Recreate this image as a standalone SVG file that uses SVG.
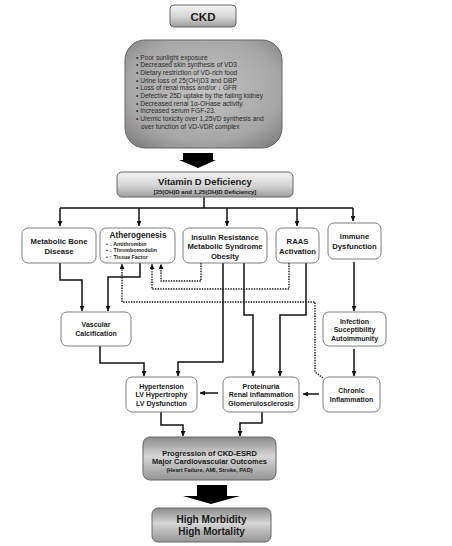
<svg xmlns="http://www.w3.org/2000/svg" width="452" height="546" viewBox="0 0 452 546">
<defs>
<linearGradient id="gDark" x1="0" y1="0" x2="0" y2="1">
<stop offset="0" stop-color="#8a8a8a"/><stop offset="0.45" stop-color="#d6d6d6"/><stop offset="1" stop-color="#959595"/>
</linearGradient>
<linearGradient id="gLight" x1="0" y1="0" x2="0" y2="1">
<stop offset="0" stop-color="#f4f4f4"/><stop offset="0.55" stop-color="#d4d4d4"/><stop offset="1" stop-color="#9c9c9c"/>
</linearGradient>
<radialGradient id="gBig" cx="0.5" cy="0.45" r="0.7">
<stop offset="0" stop-color="#c4c4c4"/><stop offset="0.7" stop-color="#a6a6a6"/><stop offset="1" stop-color="#7e7e7e"/>
</radialGradient>
<marker id="ah" viewBox="0 0 6 6" refX="6" refY="3" markerWidth="5" markerHeight="5" markerUnits="userSpaceOnUse" orient="auto">
<path d="M0,0L6,3L0,6z" fill="#111"/>
</marker>
</defs>
<style>
text{font-family:"Liberation Sans",Arial,sans-serif;fill:#1a1a1a;text-anchor:middle;font-weight:bold}
.box{fill:#fff;stroke:#707070;stroke-width:0.9}
.gbox{stroke:#666;stroke-width:1}
.r1{font-size:7.7px}
.r2{font-size:7px}
.list{font-size:6.6px;font-weight:normal;text-anchor:start;fill:#2a2a2a}
.sub{font-size:5.3px;text-anchor:start}
.c{fill:none;stroke:#111;stroke-width:1.5;marker-end:url(#ah)}
.d{fill:none;stroke:#111;stroke-width:1.4;stroke-dasharray:1.4 1.2;marker-end:url(#ah)}
.n{fill:none;stroke:#111;stroke-width:1.5}
</style>

<g id="connectors">
<path class="n" d="M204,197V208M60,208H353"/>
<path class="c" d="M60,208V226"/>
<path class="c" d="M139,208V226"/>
<path class="c" d="M227,208V226"/>
<path class="c" d="M297,208V226"/>
<path class="c" d="M353,208V221"/>
<path class="c" d="M60,263V280H82V311"/>
<path class="c" d="M140,263V277H108V311"/>
<path class="d" d="M201,263V281H161V264"/>
<path class="d" d="M289,263V289H152V264"/>
<path class="d" d="M323,378L315,372V302H122V264"/>
<path class="c" d="M223,263V362H178V376"/>
<path class="c" d="M244,263V315H253V376"/>
<path class="c" d="M306,263V315H280V376"/>
<path class="c" d="M100,346V363H144V376"/>
<path class="c" d="M354,262V311"/>
<path class="c" d="M354,349V376"/>
<path class="c" d="M319,394H303"/>
<path class="c" d="M218,393H200"/>
<path class="c" d="M161,412V425H183V436"/>
<path class="c" d="M262,412V423H240V436"/>
<polygon points="183,153 213,153 213,160 216,160 198,168 179,160 183,160" fill="#000"/>
<polygon points="197,485 227,485 227,496 240,496 211,504 183,496 197,496" fill="#000"/>
</g>

<g id="ckd">
<rect class="gbox" x="170" y="5" width="66" height="22" rx="4" fill="url(#gLight)"/>
<text x="203" y="21" font-size="11.5">CKD</text>
</g>

<g id="causes">
<rect class="gbox" x="125" y="40" width="157" height="108" rx="20" fill="url(#gBig)"/>
<text class="list" x="136" y="59.5">• Poor sunlight exposure</text>
<text class="list" x="136" y="67.2">• Decreased skin synthesis of VD3</text>
<text class="list" x="136" y="74.9">• Dietary restriction of VD-rich food</text>
<text class="list" x="136" y="82.6">• Urine loss of 25(OH)D3 and DBP</text>
<text class="list" x="136" y="90.3">• Loss of renal mass and/or ↓ GFR</text>
<text class="list" x="136" y="98">• Defective 25D uptake by the failing kidney</text>
<text class="list" x="136" y="105.7">• Decreased renal 1α-OHase activity.</text>
<text class="list" x="136" y="113.4">• Increased serum FGF-23.</text>
<text class="list" x="136" y="121.1">• Uremic toxicity over 1,25VD synthesis and</text>
<text class="list" x="141" y="128.8">over function of VD-VDR complex</text>
</g>

<g id="vitd">
<rect class="gbox" x="117" y="172" width="176" height="25" rx="5" fill="url(#gLight)"/>
<text x="205" y="185" font-size="9.5">Vitamin D Deficiency</text>
<text x="205" y="193.5" font-size="6">[25(OH)D and 1,25(OH)D Deficiency]</text>
</g>

<g id="mbd">
<rect class="box" x="22" y="228" width="74" height="35" rx="6"/>
<text class="r1" x="59" y="244">Metabolic Bone</text>
<text class="r1" x="59" y="253.5">Disease</text>
</g>

<g id="athero">
<rect class="box" x="100" y="228" width="75" height="35" rx="6"/>
<text x="138" y="238" font-size="8.2">Atherogenesis</text>
<text class="sub" x="106" y="245.5">• ↓ Antithrombin</text>
<text class="sub" x="106" y="252">• ↓ Thrombomodulin</text>
<text class="sub" x="106" y="258.5">• ↑ Tissue Factor</text>
</g>

<g id="insulin">
<rect class="box" x="183" y="228" width="84" height="35" rx="6"/>
<text class="r1" x="225" y="239.5">Insulin Resistance</text>
<text class="r1" x="225" y="249">Metabolic Syndrome</text>
<text class="r1" x="225" y="258.5">Obesity</text>
</g>

<g id="raas">
<rect class="box" x="276" y="228" width="43" height="35" rx="6"/>
<text class="r1" x="297.5" y="244">RAAS</text>
<text class="r1" x="297.5" y="253.5">Activation</text>
</g>

<g id="immune">
<rect class="box" x="328" y="223" width="53" height="36" rx="6"/>
<text class="r1" x="354.5" y="239">Immune</text>
<text class="r1" x="354.5" y="248.5">Dysfunction</text>
</g>

<g id="vascular">
<rect class="box" x="61" y="312" width="70" height="34" rx="6"/>
<text class="r2" x="96" y="327">Vascular</text>
<text class="r2" x="96" y="336">Calcification</text>
</g>

<g id="infection">
<rect class="box" x="323" y="312" width="63" height="34" rx="6"/>
<text class="r2" x="354.5" y="323.5">Infection</text>
<text class="r2" x="354.5" y="332">Suceptibility</text>
<text class="r2" x="354.5" y="340.5">Autoimmunity</text>
</g>

<g id="hypertension">
<rect class="box" x="126" y="377" width="71" height="35" rx="6"/>
<text class="r2" x="161.5" y="388.5">Hypertension</text>
<text class="r2" x="161.5" y="397">LV Hypertrophy</text>
<text class="r2" x="161.5" y="405.5">LV Dysfunction</text>
</g>

<g id="proteinuria">
<rect class="box" x="223" y="377" width="76" height="35" rx="6"/>
<text class="r2" x="261" y="388.5">Proteinuria</text>
<text class="r2" x="261" y="397">Renal inflammation</text>
<text class="r2" x="261" y="405.5">Glomerulosclerosis</text>
</g>

<g id="chronic">
<rect class="box" x="323" y="377" width="57" height="35" rx="6"/>
<text class="r2" x="351.5" y="392.5">Chronic</text>
<text class="r2" x="351.5" y="401.5">Inflammation</text>
</g>

<g id="progression">
<rect class="gbox" x="143" y="437" width="133" height="43" rx="7" fill="url(#gDark)"/>
<text x="209.5" y="455.5" font-size="7.5">Progression of CKD-ESRD</text>
<text x="209.5" y="464" font-size="7.5">Major Cardiovascular Outcomes</text>
<text x="209.5" y="471.5" font-size="5.6">(Heart Failure, AMI, Stroke, PAD)</text>
</g>

<g id="outcome">
<rect class="gbox" x="152" y="508" width="119" height="34" rx="6" fill="url(#gDark)"/>
<text x="211.5" y="523" font-size="10">High Morbidity</text>
<text x="211.5" y="535" font-size="10">High Mortality</text>
</g>
</svg>
